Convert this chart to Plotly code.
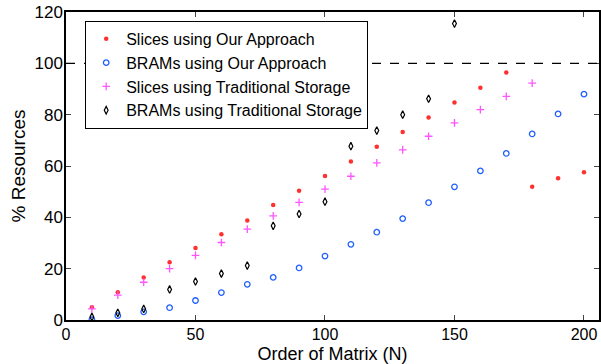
import plotly.graph_objects as go

N = [10, 20, 30, 40, 50, 60, 70, 80, 90, 100, 110, 120, 130, 140, 150, 160, 170, 180, 190, 200]
slices_our = [5.0, 10.8, 16.6, 22.5, 28.1, 33.4, 38.8, 44.8, 50.4, 56.1, 61.8, 67.5, 73.2, 78.9, 84.7, 90.5, 96.4, 51.9, 55.2, 57.6]
brams_our = [0.1, 1.7, 3.2, 4.8, 7.6, 10.7, 13.9, 16.6, 20.3, 24.9, 29.5, 34.2, 39.5, 45.7, 51.9, 58.1, 64.9, 72.5, 80.3, 88.0]
N_trad_slices = [10, 20, 30, 40, 50, 60, 70, 80, 90, 100, 110, 120, 130, 140, 150, 160, 170, 180]
slices_trad = [4.3, 9.7, 14.7, 20.0, 25.2, 30.2, 35.4, 40.6, 45.8, 51.0, 56.0, 61.2, 66.3, 71.6, 76.8, 82.0, 87.1, 92.3]
N_trad_brams = [10, 20, 30, 40, 50, 60, 70, 80, 90, 100, 110, 120, 130, 140, 150]
brams_trad = [1.2, 2.8, 4.3, 11.9, 15.0, 18.1, 21.2, 36.7, 41.3, 46.1, 67.7, 73.8, 80.0, 86.2, 115.5]
limit = 100

FONT = "Liberation Sans, Arial, sans-serif"

fig = go.Figure()
fig.add_trace(go.Scatter(x=N, y=slices_our, mode="markers", name="Slices using Our Approach",
                         marker=dict(symbol="circle", size=4.5, color="#ff3030")))
fig.add_trace(go.Scatter(x=N, y=brams_our, mode="markers", name="BRAMs using Our Approach",
                         marker=dict(symbol="circle-open", size=5.5, color="#1f5fff", line=dict(width=1.3))))
fig.add_trace(go.Scatter(x=N_trad_slices, y=slices_trad, mode="markers", name="Slices using Traditional Storage",
                         marker=dict(symbol="cross-thin-open", size=5.5, color="#ff55ff", line=dict(width=1.3, color="#ff55ff"))))
fig.add_trace(go.Scatter(x=N_trad_brams, y=brams_trad, mode="markers", name="BRAMs using Traditional Storage",
                         marker=dict(symbol="diamond-tall-open", size=5.5, color="black", line=dict(width=1.2))))

fig.add_shape(type="line", xref="paper", yref="y", x0=0, x1=1, y0=limit, y1=limit,
              line=dict(color="black", width=1.3, dash="dash"))

fig.update_layout(
    width=601, height=364,
    margin=dict(l=66, r=0, t=12, b=41),
    paper_bgcolor="white", plot_bgcolor="white",
    font=dict(family=FONT, size=17, color="black"),
    showlegend=True,
    legend=dict(x=0.036, y=0.971, xanchor="left", yanchor="top",
                bgcolor="white", bordercolor="black", borderwidth=1,
                font=dict(family=FONT, size=16), itemwidth=30, tracegroupgap=0),
    xaxis=dict(range=[0, 205.8], tickvals=[0, 50, 100, 150, 200], ticks="inside", ticklen=5,
               showline=True, linecolor="black", linewidth=1.5, mirror="ticks", showgrid=False,
               zeroline=False, tickfont=dict(size=16), ticklabelstandoff=-1,
               title=dict(text="Order of Matrix (N)", font=dict(size=18), standoff=8)),
    yaxis=dict(range=[0, 120], tickvals=[0, 20, 40, 60, 80, 100, 120], ticks="inside", ticklen=5,
               showline=True, linecolor="black", linewidth=1.5, mirror="ticks", showgrid=False,
               zeroline=False, tickfont=dict(size=17), ticklabelstandoff=-2,
               title=dict(text="% Resources", font=dict(size=19), standoff=4)),
)

fig.write_html("out.html")
